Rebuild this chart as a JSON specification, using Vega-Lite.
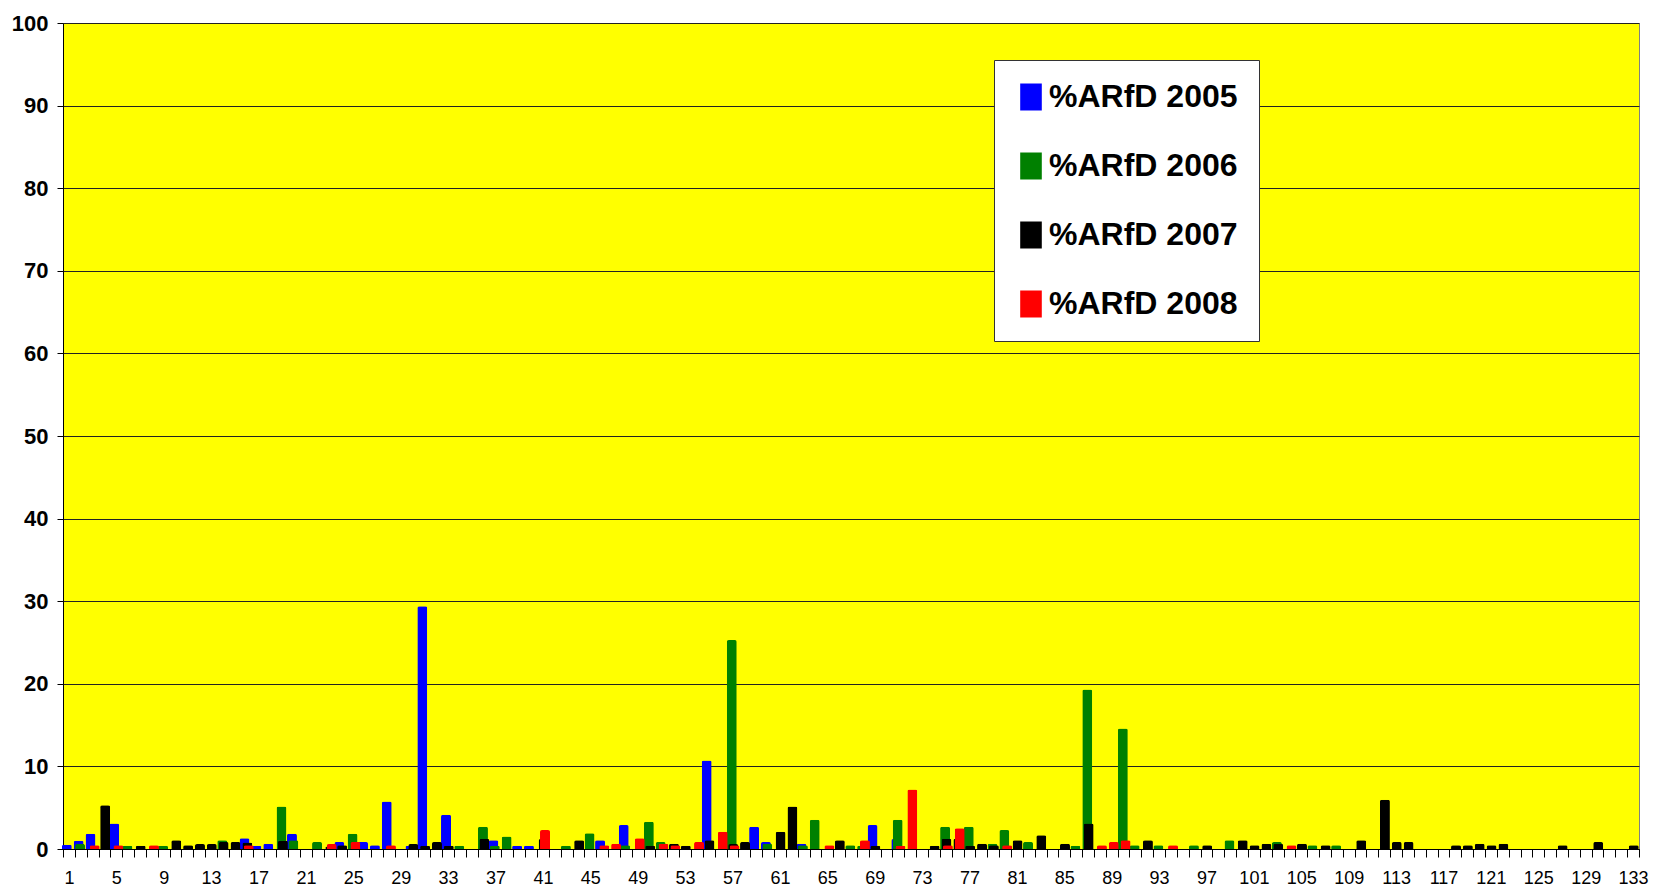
{
  "$schema": "https://vega.github.io/schema/vega-lite/v6.json",
  "autosize": {"type": "none"},
  "width": 1576,
  "height": 826,
  "padding": {"left": 63, "top": 23, "right": 14, "bottom": 41},
  "background": "#FFFFFF",
  "config": {
    "view": {"fill": "#FFFF00", "stroke": "#808080", "strokeWidth": 1},
    "font": "Liberation Sans"
  },
  "data": {
    "values": [
      {"cat": 1, "series": "%ARfD 2005", "value": 0.5},
      {"cat": 2, "series": "%ARfD 2005", "value": 1.0},
      {"cat": 3, "series": "%ARfD 2005", "value": 1.85},
      {"cat": 5, "series": "%ARfD 2005", "value": 3.1},
      {"cat": 16, "series": "%ARfD 2005", "value": 1.3},
      {"cat": 17, "series": "%ARfD 2005", "value": 0.4},
      {"cat": 18, "series": "%ARfD 2005", "value": 0.65},
      {"cat": 20, "series": "%ARfD 2005", "value": 1.85},
      {"cat": 24, "series": "%ARfD 2005", "value": 0.85},
      {"cat": 26, "series": "%ARfD 2005", "value": 0.85},
      {"cat": 27, "series": "%ARfD 2005", "value": 0.45},
      {"cat": 28, "series": "%ARfD 2005", "value": 5.75},
      {"cat": 30, "series": "%ARfD 2005", "value": 0.4},
      {"cat": 31, "series": "%ARfD 2005", "value": 29.4},
      {"cat": 33, "series": "%ARfD 2005", "value": 4.15},
      {"cat": 37, "series": "%ARfD 2005", "value": 1.05},
      {"cat": 39, "series": "%ARfD 2005", "value": 0.4},
      {"cat": 40, "series": "%ARfD 2005", "value": 0.4},
      {"cat": 46, "series": "%ARfD 2005", "value": 1.05},
      {"cat": 48, "series": "%ARfD 2005", "value": 2.9},
      {"cat": 55, "series": "%ARfD 2005", "value": 10.7},
      {"cat": 59, "series": "%ARfD 2005", "value": 2.7},
      {"cat": 60, "series": "%ARfD 2005", "value": 0.85},
      {"cat": 63, "series": "%ARfD 2005", "value": 0.65},
      {"cat": 69, "series": "%ARfD 2005", "value": 2.9},
      {"cat": 71, "series": "%ARfD 2005", "value": 1.2},

      {"cat": 2, "series": "%ARfD 2006", "value": 0.6},
      {"cat": 6, "series": "%ARfD 2006", "value": 0.4},
      {"cat": 9, "series": "%ARfD 2006", "value": 0.4},
      {"cat": 14, "series": "%ARfD 2006", "value": 1.05},
      {"cat": 19, "series": "%ARfD 2006", "value": 5.15},
      {"cat": 20, "series": "%ARfD 2006", "value": 1.05},
      {"cat": 22, "series": "%ARfD 2006", "value": 0.85},
      {"cat": 25, "series": "%ARfD 2006", "value": 1.85},
      {"cat": 34, "series": "%ARfD 2006", "value": 0.4},
      {"cat": 36, "series": "%ARfD 2006", "value": 2.7},
      {"cat": 37, "series": "%ARfD 2006", "value": 0.4},
      {"cat": 38, "series": "%ARfD 2006", "value": 1.5},
      {"cat": 43, "series": "%ARfD 2006", "value": 0.4},
      {"cat": 45, "series": "%ARfD 2006", "value": 1.9},
      {"cat": 48, "series": "%ARfD 2006", "value": 0.45},
      {"cat": 50, "series": "%ARfD 2006", "value": 3.3},
      {"cat": 51, "series": "%ARfD 2006", "value": 0.85},
      {"cat": 57, "series": "%ARfD 2006", "value": 25.3},
      {"cat": 60, "series": "%ARfD 2006", "value": 0.65},
      {"cat": 63, "series": "%ARfD 2006", "value": 0.45},
      {"cat": 64, "series": "%ARfD 2006", "value": 3.55},
      {"cat": 67, "series": "%ARfD 2006", "value": 0.45},
      {"cat": 68, "series": "%ARfD 2006", "value": 0.4},
      {"cat": 71, "series": "%ARfD 2006", "value": 3.55},
      {"cat": 75, "series": "%ARfD 2006", "value": 2.7},
      {"cat": 77, "series": "%ARfD 2006", "value": 2.7},
      {"cat": 79, "series": "%ARfD 2006", "value": 0.65},
      {"cat": 80, "series": "%ARfD 2006", "value": 2.3},
      {"cat": 82, "series": "%ARfD 2006", "value": 0.85},
      {"cat": 86, "series": "%ARfD 2006", "value": 0.4},
      {"cat": 87, "series": "%ARfD 2006", "value": 19.3},
      {"cat": 90, "series": "%ARfD 2006", "value": 14.6},
      {"cat": 91, "series": "%ARfD 2006", "value": 0.45},
      {"cat": 93, "series": "%ARfD 2006", "value": 0.45},
      {"cat": 96, "series": "%ARfD 2006", "value": 0.45},
      {"cat": 99, "series": "%ARfD 2006", "value": 1.05},
      {"cat": 103, "series": "%ARfD 2006", "value": 0.85},
      {"cat": 106, "series": "%ARfD 2006", "value": 0.45},
      {"cat": 108, "series": "%ARfD 2006", "value": 0.45},

      {"cat": 4, "series": "%ARfD 2007", "value": 5.3},
      {"cat": 7, "series": "%ARfD 2007", "value": 0.4},
      {"cat": 10, "series": "%ARfD 2007", "value": 1.05},
      {"cat": 11, "series": "%ARfD 2007", "value": 0.45},
      {"cat": 12, "series": "%ARfD 2007", "value": 0.6},
      {"cat": 13, "series": "%ARfD 2007", "value": 0.6},
      {"cat": 14, "series": "%ARfD 2007", "value": 0.85},
      {"cat": 15, "series": "%ARfD 2007", "value": 0.85},
      {"cat": 16, "series": "%ARfD 2007", "value": 0.8},
      {"cat": 19, "series": "%ARfD 2007", "value": 1.0},
      {"cat": 23, "series": "%ARfD 2007", "value": 0.3},
      {"cat": 24, "series": "%ARfD 2007", "value": 0.45},
      {"cat": 30, "series": "%ARfD 2007", "value": 0.6},
      {"cat": 31, "series": "%ARfD 2007", "value": 0.4},
      {"cat": 32, "series": "%ARfD 2007", "value": 0.85},
      {"cat": 33, "series": "%ARfD 2007", "value": 0.4},
      {"cat": 36, "series": "%ARfD 2007", "value": 1.25},
      {"cat": 41, "series": "%ARfD 2007", "value": 1.2},
      {"cat": 44, "series": "%ARfD 2007", "value": 1.05},
      {"cat": 50, "series": "%ARfD 2007", "value": 0.4},
      {"cat": 52, "series": "%ARfD 2007", "value": 0.65},
      {"cat": 53, "series": "%ARfD 2007", "value": 0.4},
      {"cat": 55, "series": "%ARfD 2007", "value": 1.05},
      {"cat": 57, "series": "%ARfD 2007", "value": 0.6},
      {"cat": 58, "series": "%ARfD 2007", "value": 0.85},
      {"cat": 61, "series": "%ARfD 2007", "value": 2.1},
      {"cat": 62, "series": "%ARfD 2007", "value": 5.15},
      {"cat": 66, "series": "%ARfD 2007", "value": 1.05},
      {"cat": 69, "series": "%ARfD 2007", "value": 0.4},
      {"cat": 74, "series": "%ARfD 2007", "value": 0.4},
      {"cat": 75, "series": "%ARfD 2007", "value": 1.25},
      {"cat": 76, "series": "%ARfD 2007", "value": 1.25},
      {"cat": 77, "series": "%ARfD 2007", "value": 0.4},
      {"cat": 78, "series": "%ARfD 2007", "value": 0.65},
      {"cat": 79, "series": "%ARfD 2007", "value": 0.45},
      {"cat": 81, "series": "%ARfD 2007", "value": 1.05},
      {"cat": 83, "series": "%ARfD 2007", "value": 1.65},
      {"cat": 85, "series": "%ARfD 2007", "value": 0.65},
      {"cat": 87, "series": "%ARfD 2007", "value": 3.1},
      {"cat": 92, "series": "%ARfD 2007", "value": 1.05},
      {"cat": 97, "series": "%ARfD 2007", "value": 0.45},
      {"cat": 100, "series": "%ARfD 2007", "value": 1.05},
      {"cat": 101, "series": "%ARfD 2007", "value": 0.45},
      {"cat": 102, "series": "%ARfD 2007", "value": 0.65},
      {"cat": 103, "series": "%ARfD 2007", "value": 0.65},
      {"cat": 105, "series": "%ARfD 2007", "value": 0.65},
      {"cat": 107, "series": "%ARfD 2007", "value": 0.45},
      {"cat": 110, "series": "%ARfD 2007", "value": 1.05},
      {"cat": 112, "series": "%ARfD 2007", "value": 5.95},
      {"cat": 113, "series": "%ARfD 2007", "value": 0.85},
      {"cat": 114, "series": "%ARfD 2007", "value": 0.85},
      {"cat": 118, "series": "%ARfD 2007", "value": 0.45},
      {"cat": 119, "series": "%ARfD 2007", "value": 0.45},
      {"cat": 120, "series": "%ARfD 2007", "value": 0.65},
      {"cat": 121, "series": "%ARfD 2007", "value": 0.45},
      {"cat": 122, "series": "%ARfD 2007", "value": 0.65},
      {"cat": 127, "series": "%ARfD 2007", "value": 0.45},
      {"cat": 130, "series": "%ARfD 2007", "value": 0.85},
      {"cat": 133, "series": "%ARfD 2007", "value": 0.45},

      {"cat": 3, "series": "%ARfD 2008", "value": 0.45},
      {"cat": 5, "series": "%ARfD 2008", "value": 0.45},
      {"cat": 8, "series": "%ARfD 2008", "value": 0.45},
      {"cat": 16, "series": "%ARfD 2008", "value": 0.45},
      {"cat": 23, "series": "%ARfD 2008", "value": 0.6},
      {"cat": 25, "series": "%ARfD 2008", "value": 0.85},
      {"cat": 28, "series": "%ARfD 2008", "value": 0.45},
      {"cat": 41, "series": "%ARfD 2008", "value": 2.3},
      {"cat": 46, "series": "%ARfD 2008", "value": 0.45},
      {"cat": 47, "series": "%ARfD 2008", "value": 0.65},
      {"cat": 49, "series": "%ARfD 2008", "value": 1.3},
      {"cat": 51, "series": "%ARfD 2008", "value": 0.65},
      {"cat": 52, "series": "%ARfD 2008", "value": 0.45},
      {"cat": 54, "series": "%ARfD 2008", "value": 0.85},
      {"cat": 56, "series": "%ARfD 2008", "value": 2.1},
      {"cat": 57, "series": "%ARfD 2008", "value": 0.45},
      {"cat": 65, "series": "%ARfD 2008", "value": 0.45},
      {"cat": 68, "series": "%ARfD 2008", "value": 1.05},
      {"cat": 71, "series": "%ARfD 2008", "value": 0.4},
      {"cat": 72, "series": "%ARfD 2008", "value": 7.2},
      {"cat": 75, "series": "%ARfD 2008", "value": 0.45},
      {"cat": 76, "series": "%ARfD 2008", "value": 2.5},
      {"cat": 80, "series": "%ARfD 2008", "value": 0.45},
      {"cat": 88, "series": "%ARfD 2008", "value": 0.45},
      {"cat": 89, "series": "%ARfD 2008", "value": 0.85},
      {"cat": 90, "series": "%ARfD 2008", "value": 1.05},
      {"cat": 94, "series": "%ARfD 2008", "value": 0.45},
      {"cat": 104, "series": "%ARfD 2008", "value": 0.45}
    ]
  },
  "encoding": {
    "x": {
      "field": "cat",
      "type": "ordinal",
      "scale": {
        "domain": [1,2,3,4,5,6,7,8,9,10,11,12,13,14,15,16,17,18,19,20,21,22,23,24,25,26,27,28,29,30,31,32,33,34,35,36,37,38,39,40,41,42,43,44,45,46,47,48,49,50,51,52,53,54,55,56,57,58,59,60,61,62,63,64,65,66,67,68,69,70,71,72,73,74,75,76,77,78,79,80,81,82,83,84,85,86,87,88,89,90,91,92,93,94,95,96,97,98,99,100,101,102,103,104,105,106,107,108,109,110,111,112,113,114,115,116,117,118,119,120,121,122,123,124,125,126,127,128,129,130,131,132,133],
        "paddingInner": 0,
        "paddingOuter": 0
      },
      "axis": {
        "title": null,
        "tickBand": "extent",
        "labelExpr": "(datum.value - 1) % 4 === 0 ? datum.label : ''",
        "labelAngle": 0,
        "labelOverlap": false,
        "labelFlush": false,
        "labelFont": "Liberation Sans",
        "labelFontSize": 18,
        "labelColor": "#000000",
        "labelPadding": 12,
        "tickSize": 8,
        "tickColor": "#000000",
        "tickWidth": 1,
        "domainColor": "#000000",
        "domainWidth": 1,
        "grid": false
      }
    },
    "y": {
      "field": "value",
      "type": "quantitative",
      "scale": {"domain": [0, 100], "nice": false},
      "axis": {
        "title": null,
        "values": [0,10,20,30,40,50,60,70,80,90,100],
        "labelFont": "Liberation Sans",
        "labelFontSize": 22,
        "labelFontWeight": "bold",
        "labelColor": "#000000",
        "labelPadding": 9,
        "tickSize": 6,
        "tickColor": "#000000",
        "domainColor": "#000000",
        "grid": true,
        "gridColor": "#222222",
        "gridWidth": 1
      }
    },
    "color": {
      "field": "series",
      "type": "nominal",
      "scale": {
        "domain": ["%ARfD 2005", "%ARfD 2006", "%ARfD 2007", "%ARfD 2008"],
        "range": ["#0000FF", "#008000", "#000000", "#FF0000"]
      },
      "legend": {
        "title": null,
        "orient": "none",
        "legendX": 931,
        "legendY": 37,
        "fillColor": "#FFFFFF",
        "strokeColor": "#333333",
        "padding": 21,
        "labelFont": "Liberation Sans",
        "labelFontSize": 32,
        "labelFontWeight": "bold",
        "labelColor": "#000000",
        "labelLimit": 400,
        "labelOffset": 2,
        "rowPadding": 37,
        "symbolType": "M-0.8,-1H0.8V1H-0.8Z",
        "symbolSize": 729,
        "symbolStrokeWidth": 0,
        "symbolOpacity": 1
      }
    }
  },
  "layer": [
    {
      "transform": [{"filter": "datum.series === '%ARfD 2005'"}],
      "mark": {"type": "bar", "width": 10, "xOffset": -2.1, "cornerRadiusTopLeft": 2, "cornerRadiusTopRight": 2}
    },
    {
      "transform": [{"filter": "datum.series === '%ARfD 2006'"}],
      "mark": {"type": "bar", "width": 10, "xOffset": -0.7, "cornerRadiusTopLeft": 2, "cornerRadiusTopRight": 2}
    },
    {
      "transform": [{"filter": "datum.series === '%ARfD 2007'"}],
      "mark": {"type": "bar", "width": 10, "xOffset": 0.7, "cornerRadiusTopLeft": 2, "cornerRadiusTopRight": 2}
    },
    {
      "transform": [{"filter": "datum.series === '%ARfD 2008'"}],
      "mark": {"type": "bar", "width": 10, "xOffset": 2.1, "cornerRadiusTopLeft": 2, "cornerRadiusTopRight": 2}
    }
  ]
}
